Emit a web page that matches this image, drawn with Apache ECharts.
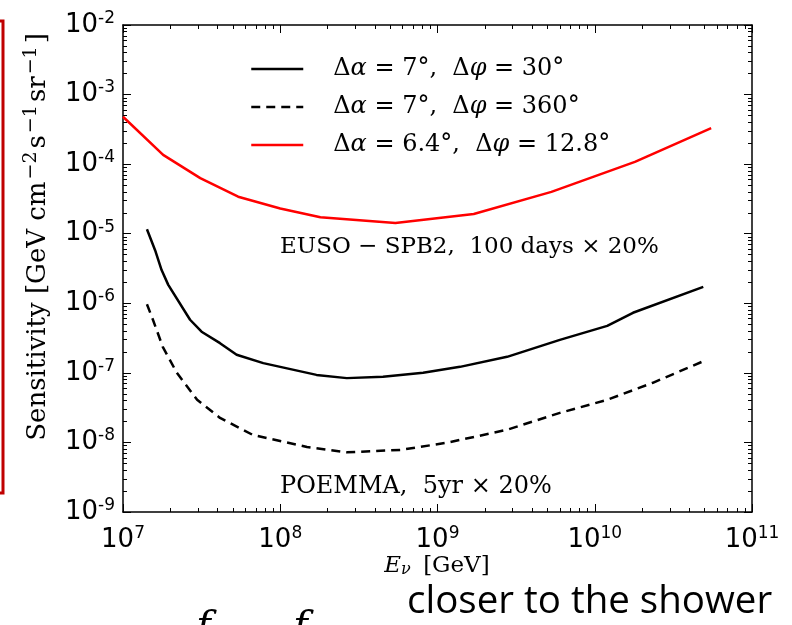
<!DOCTYPE html>
<html lang="en">
<head>
    <meta charset="UTF-8">
    <title>Sensitivity vs energy</title>
    <script src="https://cdn.jsdelivr.net/npm/echarts@6/dist/echarts.min.js"></script>
    <style>
        html, body { margin: 0; padding: 0; background: #fff; }
        #chart { width: 792px; height: 625px; }
    </style>
</head>
<body>
    <div id="chart"></div>

    <script>
        var chart = echarts.init(document.getElementById('chart'));

        // Dados (E em GeV, sensibilidade em GeV cm^-2 s^-1 sr^-1)
        var energiaSolida = [1.42e7, 1.6e7, 1.76e7, 1.94e7, 2.67e7, 3.16e7, 4.14e7, 5.28e7, 7.8e7, 1.7e8, 2.65e8, 4.5e8, 8.1e8, 1.39e9, 2.77e9, 6.0e9, 1.2e10, 1.75e10, 4.9e10];
        var sensSolida = [1.16e-5, 5.8e-6, 3.0e-6, 1.84e-6, 5.8e-7, 3.9e-7, 2.67e-7, 1.82e-7, 1.38e-7, 9.35e-8, 8.4e-8, 8.8e-8, 1.0e-7, 1.22e-7, 1.7e-7, 2.98e-7, 4.73e-7, 7.3e-7, 1.72e-6];

        var energiaTracejada = [1.42e7, 1.55e7, 1.79e7, 2.2e7, 2.96e7, 4.14e7, 6.7e7, 1.48e8, 2.65e8, 5.8e8, 1.15e9, 2.77e9, 6.0e9, 1.2e10, 2.34e10, 4.8e10];
        var sensTracejada = [9.7e-7, 5.8e-7, 2.37e-7, 1.0e-7, 4.1e-8, 2.25e-8, 1.28e-8, 8.6e-9, 7.2e-9, 7.8e-9, 9.9e-9, 1.52e-8, 2.66e-8, 4.1e-8, 7.2e-8, 1.44e-7];

        var energiaVermelha = [1.0e7, 1.8e7, 3.1e7, 5.4e7, 1.0e8, 1.8e8, 5.4e8, 1.7e9, 5.3e9, 1.8e10, 5.5e10];
        var sensVermelha = [4.8e-4, 1.36e-4, 6.3e-5, 3.4e-5, 2.3e-5, 1.72e-5, 1.43e-5, 1.92e-5, 4.0e-5, 1.08e-4, 3.3e-4];

        var nomes = [
            '\u0394\u03b1 = 7\u00b0,  \u0394\u03c6 = 30\u00b0',
            '\u0394\u03b1 = 7\u00b0,  \u0394\u03c6 = 360\u00b0',
            '\u0394\u03b1 = 6.4\u00b0,  \u0394\u03c6 = 12.8\u00b0'
        ];

        function pares(xs, ys) {
            var out = [];
            for (var i = 0; i < xs.length; i++) out.push([xs[i], ys[i]]);
            return out;
        }

        var serif = 'DejaVu Serif';
        var supRich = {
            b: { fontSize: 26, fontFamily: 'DejaVu Sans', color: '#000', lineHeight: 30 },
            sup: { fontSize: 17, fontFamily: 'DejaVu Sans', color: '#000', verticalAlign: 'top', lineHeight: 30, padding: [0, 0, 12, 0] }
        };
        function potencia(v) {
            var e = Math.round(Math.log(v) / Math.LN10);
            return '{b|10}{sup|' + e + '}';
        }

        var eixoX = {
            type: 'log', logBase: 10, min: 1e7, max: 1e11,
            axisLine: { lineStyle: { color: '#000', width: 1.5 } },
            axisTick: { inside: true, length: 8, lineStyle: { color: '#000' } },
            minorTick: { show: true, splitNumber: 9, length: 4, lineStyle: { color: '#000' } },
            splitLine: { show: false }
        };
        var eixoY = {
            type: 'log', logBase: 10, min: 1e-9, max: 1e-2,
            axisLine: { lineStyle: { color: '#000', width: 1.5 } },
            axisTick: { inside: true, length: 8, lineStyle: { color: '#000' } },
            minorTick: { show: true, splitNumber: 9, length: 4, lineStyle: { color: '#000' } },
            splitLine: { show: false }
        };

        // legenda: α e φ em itálico
        function legendaRich(n) {
            return n.replace(/\u03b1/g, '{i|\u03b1}').replace(/\u03c6/g, '{i|\u03c6}');
        }

        var option = {
            animation: false,
            grid: { left: 123, right: 40, top: 25, bottom: 113, containLabel: false },
            xAxis: [
                Object.assign({}, eixoX, {
                    position: 'bottom',
                    axisLabel: { formatter: potencia, rich: supRich, margin: 13 }
                }),
                Object.assign({}, eixoX, { position: 'top', axisLabel: { show: false } })
            ],
            yAxis: [
                Object.assign({}, eixoY, {
                    position: 'left',
                    axisLabel: { formatter: potencia, rich: supRich, margin: 8 }
                }),
                Object.assign({}, eixoY, { position: 'right', axisLabel: { show: false } })
            ],
            legend: {
                left: 250, top: 56, padding: 0,
                orient: 'vertical',
                itemWidth: 52, itemHeight: 14, itemGap: 12,
                data: nomes,
                itemStyle: { opacity: 0 },
                lineStyle: { width: 2.5 },
                formatter: legendaRich,
                textStyle: {
                    fontFamily: serif, fontSize: 24, lineHeight: 26, color: '#000', padding: [0, 0, 0, 25],
                    rich: { i: { fontFamily: serif, fontStyle: 'italic', fontSize: 24, color: '#000' } }
                }
            },
            series: [
                {
                    name: nomes[0], type: 'line', symbol: 'none',
                    data: pares(energiaSolida, sensSolida),
                    lineStyle: { color: '#000', width: 2.5 },
                    itemStyle: { color: '#000' }
                },
                {
                    name: nomes[1], type: 'line', symbol: 'none',
                    data: pares(energiaTracejada, sensTracejada),
                    lineStyle: { color: '#000', width: 2.5, type: [9, 6] },
                    itemStyle: { color: '#000' }
                },
                {
                    name: nomes[2], type: 'line', symbol: 'none',
                    data: pares(energiaVermelha, sensVermelha),
                    lineStyle: { color: '#ff0000', width: 2.5 },
                    itemStyle: { color: '#ff0000' }
                }
            ],
            graphic: [
                // caixa vermelha cortada na borda esquerda
                { type: 'rect', shape: { x: -10, y: 21, width: 13, height: 472 },
                  style: { fill: 'none', stroke: '#c00000', lineWidth: 3 } },
                // nome do eixo y
                { type: 'text', x: 38, y: 237, rotation: Math.PI / 2,
                  style: {
                      text: 'Sensitivity [GeV cm{s|\u22122}s{s|\u22121}sr{s|\u22121}]',
                      fontFamily: serif, fontSize: 26, fill: '#000',
                      align: 'center', verticalAlign: 'middle',
                      rich: { s: { fontFamily: serif, fontSize: 19, fill: '#000', padding: [0, 3, 13, 2] } }
                  } },
                // nome do eixo x
                { type: 'text', x: 437, y: 566,
                  style: {
                      text: '{i|E}{sub|\u03bd} [GeV]',
                      fontFamily: serif, fontSize: 23, fill: '#000',
                      align: 'center', verticalAlign: 'middle',
                      rich: {
                          i: { fontFamily: serif, fontStyle: 'italic', fontSize: 23, fill: '#000' },
                          sub: { fontFamily: serif, fontStyle: 'italic', fontSize: 16, fill: '#000', padding: [8, 5, 0, 0] }
                      }
                  } },
                { type: 'text', x: 280, y: 247,
                  style: { text: 'EUSO \u2212 SPB2,  100 days \u00d7 20%', fontFamily: serif, fontSize: 23,
                           fill: '#000', verticalAlign: 'middle' } },
                { type: 'text', x: 280, y: 487,
                  style: { text: 'POEMMA,  5yr \u00d7 20%', fontFamily: serif, fontSize: 24,
                           fill: '#000', verticalAlign: 'middle' } },
                { type: 'text', x: 407, y: 602,
                  style: { text: 'closer to the shower', fontFamily: 'Open Sans', fontSize: 38.5,
                           fill: '#000', verticalAlign: 'middle' } },
                { type: 'text', x: 196, y: 608,
                  style: { text: 'f', fontFamily: serif, fontStyle: 'italic', fontSize: 40, fill: '#000' } },
                { type: 'text', x: 293, y: 608,
                  style: { text: 'f', fontFamily: serif, fontStyle: 'italic', fontSize: 40, fill: '#000' } }
            ]
        };

        chart.setOption(option);
    </script>
</body>
</html>
